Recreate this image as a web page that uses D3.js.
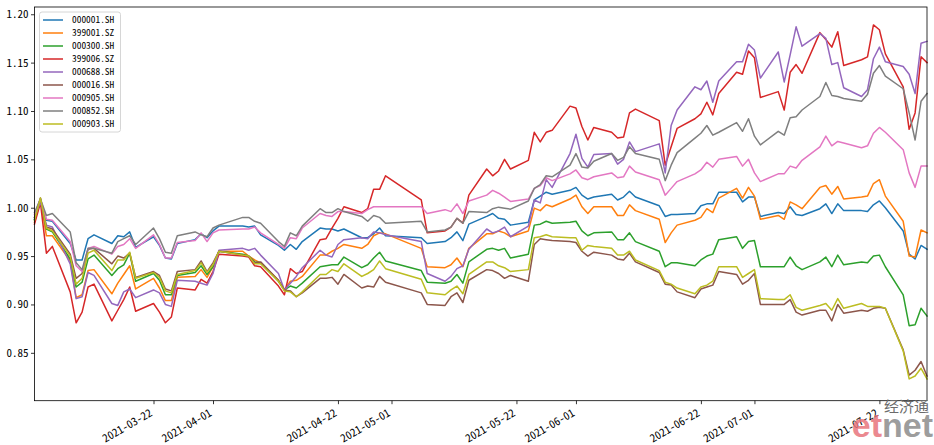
<!DOCTYPE html>
<html><head><meta charset="utf-8">
<script src="https://cdn.jsdelivr.net/npm/d3@7"></script>
<style>
html,body{margin:0;padding:0;background:#fff;}
svg{display:block;}
text{font-family:"Noto Sans Mono CJK SC","Noto Sans CJK SC","DejaVu Sans",sans-serif;}
</style></head>
<body><svg id="chart" width="934" height="445"></svg>
<script>
const dates = ["2021-03-02","2021-03-03","2021-03-04","2021-03-05","2021-03-08","2021-03-09","2021-03-10","2021-03-11","2021-03-12","2021-03-15","2021-03-16","2021-03-17","2021-03-18","2021-03-19","2021-03-22","2021-03-23","2021-03-24","2021-03-25","2021-03-26","2021-03-29","2021-03-30","2021-03-31",
"2021-04-01","2021-04-02","2021-04-06","2021-04-07","2021-04-08","2021-04-09","2021-04-12","2021-04-13","2021-04-14","2021-04-15","2021-04-16","2021-04-19","2021-04-20","2021-04-21","2021-04-22","2021-04-23","2021-04-26","2021-04-27","2021-04-28","2021-04-29","2021-04-30",
"2021-05-06","2021-05-07","2021-05-10","2021-05-11","2021-05-12","2021-05-13","2021-05-14","2021-05-17","2021-05-18","2021-05-19","2021-05-20","2021-05-21","2021-05-24","2021-05-25","2021-05-26","2021-05-27","2021-05-28","2021-05-31",
"2021-06-01","2021-06-02","2021-06-03","2021-06-04","2021-06-07","2021-06-08","2021-06-09","2021-06-10","2021-06-11","2021-06-15","2021-06-16","2021-06-17","2021-06-18","2021-06-21","2021-06-22","2021-06-23","2021-06-24","2021-06-25","2021-06-28","2021-06-29","2021-06-30",
"2021-07-01","2021-07-02","2021-07-05","2021-07-06","2021-07-07","2021-07-08","2021-07-09","2021-07-12","2021-07-13","2021-07-14","2021-07-15","2021-07-16","2021-07-19","2021-07-20","2021-07-21","2021-07-22","2021-07-23","2021-07-26","2021-07-27","2021-07-28","2021-07-29","2021-07-30"];

const seriesNames = ["000001.SH","399001.SZ","000300.SH","399006.SZ","000688.SH","000016.SH","000905.SH","000852.SH","000903.SH"];

const s000001 = [0.988,1.007,0.987,0.986,0.963,0.946,0.946,0.968,0.972,0.963,0.971,0.970,0.975,0.959,0.970,0.961,0.948,0.947,0.963,0.967,0.973,0.969,
0.976,0.981,0.981,0.980,0.981,0.972,0.961,0.956,0.962,0.957,0.965,0.979,0.978,0.978,0.976,0.978,0.969,0.969,0.973,0.979,0.971,
0.969,0.963,0.965,0.969,0.975,0.966,0.983,0.991,0.994,0.989,0.988,0.982,0.985,1.008,1.012,1.016,1.014,1.018,
1.021,1.013,1.009,1.011,1.014,1.008,1.011,1.017,1.011,1.002,0.991,0.993,0.993,0.994,1.002,1.004,1.004,1.016,1.016,1.006,1.011,
1.011,0.991,0.995,0.994,1.001,0.993,0.992,0.999,1.004,0.994,1.004,0.997,0.997,0.996,1.003,1.007,1.000,0.976,0.952,0.947,0.961,0.957];

const s399001 = [0.985,1.008,0.971,0.971,0.945,0.907,0.910,0.935,0.936,0.911,0.922,0.931,0.940,0.916,0.927,0.917,0.904,0.904,0.928,0.929,0.936,0.928,
0.939,0.955,0.955,0.950,0.946,0.943,0.925,0.915,0.924,0.925,0.929,0.951,0.951,0.955,0.958,0.962,0.958,0.962,0.971,0.974,0.973,
0.958,0.939,0.938,0.941,0.948,0.939,0.958,0.973,0.973,0.976,0.974,0.970,0.976,0.9996,0.997,1.003,1.001,1.009,
1.013,1.001,0.994,1.001,1.001,0.992,0.992,1.003,0.997,0.988,0.964,0.974,0.982,0.987,0.990,0.999,0.995,1.010,1.020,1.010,1.021,
1.012,0.988,0.992,0.988,1.006,1.003,0.999,1.021,1.023,1.014,1.022,1.009,1.011,1.012,1.025,1.029,1.012,0.986,0.950,0.949,0.977,0.974];

const s000300 = [0.988,1.009,0.978,0.975,0.947,0.918,0.923,0.947,0.951,0.930,0.937,0.941,0.953,0.924,0.932,0.925,0.910,0.910,0.930,0.933,0.940,0.931,
0.939,0.955,0.952,0.950,0.944,0.943,0.924,0.915,0.919,0.917,0.922,0.939,0.940,0.941,0.941,0.949,0.938,0.941,0.948,0.954,0.945,
0.935,0.923,0.922,0.924,0.931,0.922,0.944,0.957,0.958,0.956,0.958,0.948,0.952,0.982,0.983,0.986,0.984,0.985,
0.986,0.976,0.971,0.974,0.975,0.967,0.967,0.974,0.965,0.955,0.939,0.943,0.943,0.940,0.946,0.950,0.952,0.967,0.970,0.958,0.965,
0.966,0.939,0.939,0.939,0.949,0.940,0.936,0.944,0.949,0.939,0.951,0.941,0.944,0.943,0.950,0.951,0.939,0.910,0.878,0.879,0.896,0.888];

const s399006 = [0.983,1.005,0.953,0.960,0.913,0.881,0.892,0.918,0.921,0.883,0.894,0.905,0.918,0.893,0.901,0.892,0.881,0.887,0.917,0.915,0.926,0.922,
0.934,0.952,0.950,0.949,0.940,0.939,0.919,0.910,0.937,0.932,0.934,0.967,0.968,0.979,0.989,1.001,0.995,0.999,1.019,1.019,1.033,
1.008,0.974,0.976,0.980,0.989,0.984,1.013,1.040,1.033,1.038,1.050,1.040,1.049,1.078,1.068,1.078,1.080,1.105,
1.103,1.084,1.070,1.083,1.078,1.072,1.073,1.098,1.102,1.090,1.044,1.063,1.082,1.092,1.097,1.109,1.096,1.118,1.140,1.138,1.162,
1.155,1.114,1.120,1.101,1.140,1.148,1.139,1.181,1.174,1.166,1.182,1.147,1.153,1.156,1.189,1.184,1.159,1.125,1.081,1.098,1.156,1.150];

const s000688 = [0.990,1.006,0.982,0.980,0.942,0.906,0.908,0.933,0.930,0.901,0.899,0.913,0.916,0.907,0.915,0.912,0.900,0.898,0.925,0.924,0.922,0.920,
0.932,0.956,0.958,0.956,0.958,0.951,0.932,0.915,0.922,0.929,0.938,0.956,0.951,0.949,0.962,0.967,0.969,0.968,0.975,0.974,0.972,
0.965,0.932,0.924,0.929,0.937,0.940,0.957,0.978,0.974,0.976,0.980,0.970,0.981,1.008,1.005,1.029,1.021,1.056,
1.076,1.051,1.042,1.055,1.056,1.045,1.050,1.068,1.058,1.066,1.036,1.085,1.101,1.125,1.122,1.131,1.109,1.131,1.151,1.151,1.169,
1.163,1.134,1.161,1.130,1.158,1.187,1.167,1.180,1.175,1.148,1.150,1.124,1.115,1.122,1.154,1.166,1.151,1.146,1.138,1.118,1.170,1.172];

const s000016 = [0.990,1.010,0.980,0.978,0.952,0.927,0.932,0.957,0.958,0.942,0.950,0.948,0.953,0.928,0.934,0.930,0.916,0.914,0.934,0.936,0.945,0.934,
0.943,0.955,0.951,0.950,0.943,0.944,0.925,0.915,0.914,0.908,0.912,0.927,0.927,0.928,0.921,0.931,0.917,0.919,0.918,0.929,0.923,
0.912,0.900,0.899,0.908,0.912,0.902,0.925,0.936,0.935,0.932,0.927,0.930,0.924,0.962,0.968,0.967,0.966,0.965,
0.964,0.955,0.950,0.954,0.951,0.947,0.946,0.953,0.944,0.933,0.921,0.920,0.913,0.907,0.916,0.918,0.920,0.934,0.931,0.921,0.925,
0.932,0.900,0.900,0.900,0.905,0.892,0.889,0.894,0.894,0.883,0.900,0.891,0.894,0.893,0.896,0.897,0.896,0.853,0.827,0.832,0.841,0.826];

const s000905 = [0.993,1.009,0.988,0.987,0.965,0.940,0.934,0.958,0.960,0.952,0.960,0.962,0.968,0.958,0.972,0.962,0.948,0.948,0.964,0.966,0.974,0.965,
0.974,0.977,0.978,0.978,0.980,0.974,0.962,0.958,0.969,0.968,0.979,0.994,0.992,0.991,0.996,0.996,0.994,0.998,1.001,1.001,1.001,
1.001,0.994,0.998,0.996,1.004,0.994,1.007,1.013,1.018,1.015,1.011,1.0065,1.009,1.020,1.023,1.031,1.028,1.035,
1.039,1.031,1.029,1.032,1.036,1.031,1.032,1.043,1.037,1.029,1.013,1.020,1.027,1.035,1.039,1.047,1.042,1.050,1.053,1.043,1.050,
1.036,1.027,1.035,1.035,1.043,1.041,1.049,1.063,1.074,1.064,1.0685,1.067,1.062,1.064,1.077,1.083,1.078,1.060,1.036,1.021,1.043,1.043];

const s000852 = [0.995,1.009,0.992,0.994,0.975,0.943,0.936,0.958,0.958,0.953,0.965,0.968,0.971,0.962,0.979,0.968,0.954,0.953,0.971,0.975,0.972,0.970,
0.979,0.982,0.990,0.990,0.986,0.984,0.965,0.960,0.974,0.971,0.981,0.999,0.995,0.995,0.999,0.996,0.991,0.986,0.992,0.990,0.984,
0.986,0.975,0.977,0.980,0.989,0.984,0.996,0.995,0.999,1.0006,0.9995,0.9985,1.007,1.020,1.024,1.033,1.032,1.044,
1.056,1.042,1.041,1.048,1.056,1.049,1.052,1.063,1.056,1.050,1.028,1.044,1.057,1.072,1.077,1.085,1.075,1.078,1.088,1.079,1.092,
1.074,1.065,1.079,1.075,1.093,1.094,1.101,1.115,1.1295,1.116,1.115,1.113,1.110,1.117,1.139,1.147,1.136,1.123,1.098,1.070,1.110,1.118];

const s000903 = [0.987,1.010,0.979,0.976,0.950,0.921,0.927,0.953,0.956,0.935,0.946,0.946,0.954,0.927,0.933,0.928,0.914,0.912,0.931,0.935,0.943,0.933,
0.941,0.955,0.951,0.950,0.942,0.942,0.924,0.914,0.913,0.908,0.913,0.931,0.931,0.936,0.934,0.942,0.929,0.932,0.936,0.945,0.937,
0.926,0.912,0.910,0.915,0.919,0.911,0.931,0.944,0.944,0.940,0.938,0.934,0.936,0.969,0.970,0.972,0.970,0.969,
0.969,0.956,0.961,0.960,0.958,0.951,0.951,0.955,0.946,0.935,0.923,0.921,0.917,0.911,0.918,0.920,0.924,0.939,0.939,0.928,0.932,
0.936,0.906,0.905,0.905,0.910,0.897,0.894,0.899,0.901,0.894,0.906,0.896,0.901,0.898,0.898,0.898,0.896,0.852,0.823,0.826,0.834,0.823];

const seriesValues = [s000001,s399001,s000300,s399006,s000688,s000016,s000905,s000852,s000903];
const colors = ["#1f77b4","#ff7f0e","#2ca02c","#d62728","#9467bd","#8c564b","#e377c2","#7f7f7f","#bcbd22"];
const yTicks = [0.85,0.90,0.95,1.00,1.05,1.10,1.15,1.20];
const xTickLabels = ["2021-03-22","2021-04-01","2021-04-22","2021-05-01","2021-05-22","2021-06-01","2021-06-22","2021-07-01","2021-07-22"];

const parse = d3.timeParse("%Y-%m-%d");
const L = 34.5, R = 927, T = 7, B = 400.7;
const FONT = '"Noto Sans Mono CJK SC","Noto Sans CJK SC",sans-serif';
const svg = d3.select("#chart");
const x = d3.scaleTime().domain([parse("2021-03-02"), parse("2021-07-30")]).range([L, R]);
const y = d3.scaleLinear().domain([0.8005, 1.2075]).range([B, T]);

const line = d3.line().x(d => x(d.date)).y(d => y(d.v));
const g = svg.append("g");
seriesValues.forEach((vals, i) => {
  const data = dates.map((s, k) => ({date: parse(s), v: vals[k]}));
  g.append("path").datum(data).attr("d", line)
    .attr("fill", "none").attr("stroke", colors[i]).attr("stroke-width", 1.5)
    .attr("stroke-linejoin", "round").attr("stroke-linecap", "square");
});

// frame
svg.append("rect").attr("x", L).attr("y", T).attr("width", R - L).attr("height", B - T)
  .attr("fill", "none").attr("stroke", "#000").attr("stroke-width", 0.8);

// y axis
const ya = svg.append("g").attr("transform", `translate(${L},0)`)
  .call(d3.axisLeft(y).tickValues(yTicks).tickFormat(d3.format(".2f")).tickSize(3.5).tickPadding(2.5));
ya.select(".domain").remove();
ya.selectAll("text").attr("font-size", 11).attr("fill", "#000").attr("font-family", FONT);
ya.selectAll("line").attr("stroke", "#000").attr("stroke-width", 0.8);

// x axis
const xa = svg.append("g").attr("transform", `translate(0,${B})`)
  .call(d3.axisBottom(x).tickValues(xTickLabels.map(parse)).tickFormat(d3.timeFormat("%Y-%m-%d")).tickSize(3.5));
xa.select(".domain").remove();
xa.selectAll("line").attr("stroke", "#000").attr("stroke-width", 0.8);
xa.selectAll("text")
  .attr("font-size", 11).attr("fill", "#000").attr("font-family", FONT)
  .attr("text-anchor", "end").attr("dy", null)
  .attr("transform", "translate(-1,14.5) rotate(-30)").attr("y", 0).attr("x", 0);

// legend
const lg = svg.append("g");
lg.append("rect").attr("x", 39.5).attr("y", 12).attr("width", 81).attr("height", 120).attr("rx", 2.5)
  .attr("fill", "#fff").attr("fill-opacity", 0.8).attr("stroke", "#cccccc").attr("stroke-width", 0.8);
seriesNames.forEach((n, i) => {
  const yy = 20 + i * 13;
  lg.append("line").attr("x1", 43).attr("x2", 63).attr("y1", yy).attr("y2", yy)
    .attr("stroke", colors[i]).attr("stroke-width", 1.5);
  lg.append("text").attr("x", 72).attr("y", yy + 3.4).text(n).attr("font-size", 9.4)
    .attr("font-family", FONT).attr("fill", "#000");
});

// watermark (one text block: "经济通" above "etnet")
const wm = svg.append("text").attr("text-anchor", "end");
wm.append("tspan").attr("x", 929).attr("y", 412).attr("font-size", 15)
  .attr("font-family", '"Noto Sans CJK SC",sans-serif').attr("fill", "#6b6b6b").text("经济通");
wm.append("tspan").attr("x", 933).attr("y", 437).attr("font-size", 34).attr("font-weight", "bold")
  .attr("font-family", "Liberation Sans, Arial, sans-serif").attr("fill", "#e8747c").attr("fill-opacity", 0.85).text("et");
wm.append("tspan").attr("font-size", 34).attr("font-weight", "bold")
  .attr("font-family", "Liberation Sans, Arial, sans-serif").attr("fill", "#8c8c8c").attr("fill-opacity", 0.85).text("net");
</script></body></html>
